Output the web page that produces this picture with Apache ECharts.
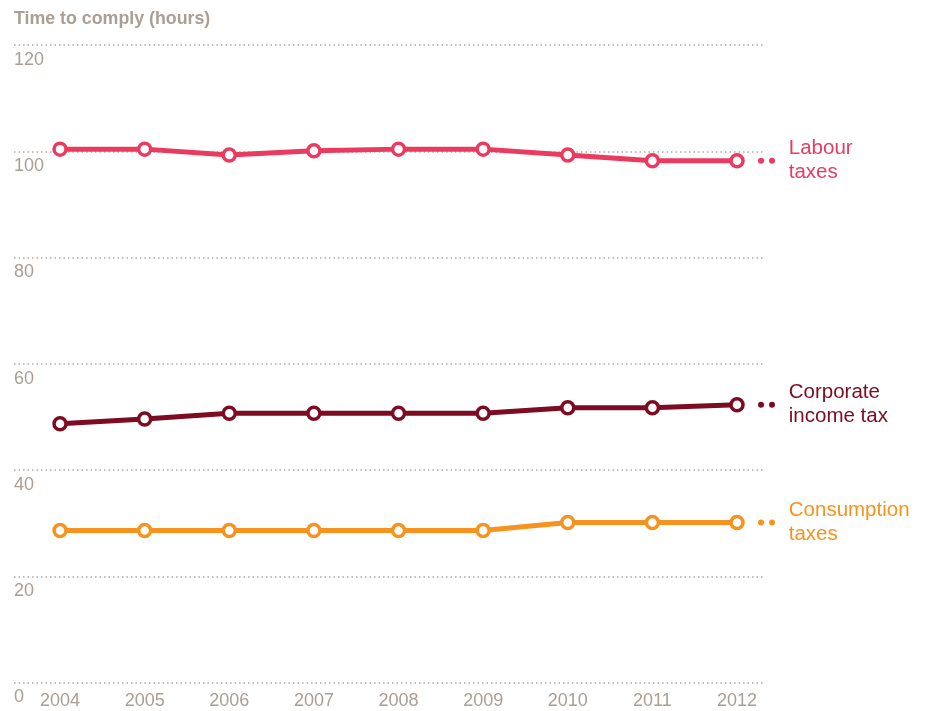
<!DOCTYPE html>
<html>
<head>
<meta charset="utf-8">
<script src="https://cdn.jsdelivr.net/npm/echarts@6/dist/echarts.min.js"></script>
<style>
html,body{margin:0;padding:0;background:#fff;}
#chart{width:931px;height:711px;}
</style>
</head>
<body>
<div id="chart"></div>
<script>
var years = [2004, 2005, 2006, 2007, 2008, 2009, 2010, 2011, 2012];
var labourTaxes = [100.4, 100.4, 99.3, 100.1, 100.4, 100.4, 99.3, 98.2, 98.2];
var corporateIncomeTax = [48.7, 49.6, 50.7, 50.7, 50.7, 50.7, 51.7, 51.7, 52.3];
var consumptionTaxes = [28.6, 28.6, 28.6, 28.6, 28.6, 28.6, 30.1, 30.1, 30.1];
var seriesNames = ['Labour\ntaxes', 'Corporate\nincome tax', 'Consumption\ntaxes'];
var seriesColors = ['#ea3a60', '#7d0b22', '#f6921e'];
var yTicks = [0, 20, 40, 60, 80, 100, 120];

var FONT = '"Liberation Sans", Arial, Helvetica, sans-serif';
var GREY = '#aa9e95';

function makeSeries(name, values, color) {
  var data = values.map(function (v, i) {
    var item = { value: [years[i], v] };
    if (i === values.length - 1) {
      item.label = {
        show: true,
        position: 'right',
        distance: 44,
        formatter: name,
        color: color,
        fontFamily: FONT,
        fontSize: 20.5,
        lineHeight: 24
      };
    }
    return item;
  });
  return {
    type: 'line',
    name: name,
    data: data,
    symbol: 'circle',
    symbolSize: 12,
    itemStyle: { color: '#fff', borderColor: color, borderWidth: 3.5 },
    lineStyle: { color: color, width: 5 },
    label: { show: false },
    endLabel: {
      show: true,
      distance: 21,
      formatter: '{d|}{s|}{d|}',
      rich: {
        d: { width: 6, height: 6, borderRadius: 3, backgroundColor: color },
        s: { width: 5, height: 6 }
      }
    },
    emphasis: { disabled: true },
    silent: true,
    z: 3
  };
}

var chart = echarts.init(document.getElementById('chart'), null, { renderer: 'canvas' });
chart.setOption({
  animation: false,
  backgroundColor: '#fff',
  title: {
    text: 'Time to comply (hours)',
    left: 9,
    top: 5,
    textStyle: { fontFamily: FONT, fontSize: 17.8, fontWeight: 'bold', color: GREY }
  },
  grid: { left: 14, right: 168, top: 45, bottom: 28.5, containLabel: false },
  xAxis: {
    type: 'value',
    min: 2003.456,
    max: 2012.307,
    axisLine: { show: false },
    axisTick: { show: false },
    splitLine: { show: false },
    axisLabel: {
      customValues: years,
      formatter: function (v) { return String(v); },
      color: GREY,
      fontFamily: FONT,
      fontSize: 18,
      margin: 10
    }
  },
  yAxis: {
    type: 'value',
    min: 0,
    max: 120,
    interval: 20,
    axisLine: { show: false },
    axisTick: { show: false },
    splitLine: { show: true, lineStyle: { color: '#b3a89f', width: 1.5, type: [1.5, 3] } },
    axisLabel: {
      inside: true,
      margin: 0,
      align: 'left',
      verticalAlign: 'top',
      padding: [6, 0, 0, 0],
      color: GREY,
      fontFamily: FONT,
      fontSize: 18,
      formatter: function (v) { return yTicks.indexOf(v) >= 0 ? String(v) : ''; }
    }
  },
  series: [
    makeSeries(seriesNames[0], labourTaxes, seriesColors[0]),
    makeSeries(seriesNames[1], corporateIncomeTax, seriesColors[1]),
    makeSeries(seriesNames[2], consumptionTaxes, seriesColors[2])
  ]
});
</script>
</body>
</html>
